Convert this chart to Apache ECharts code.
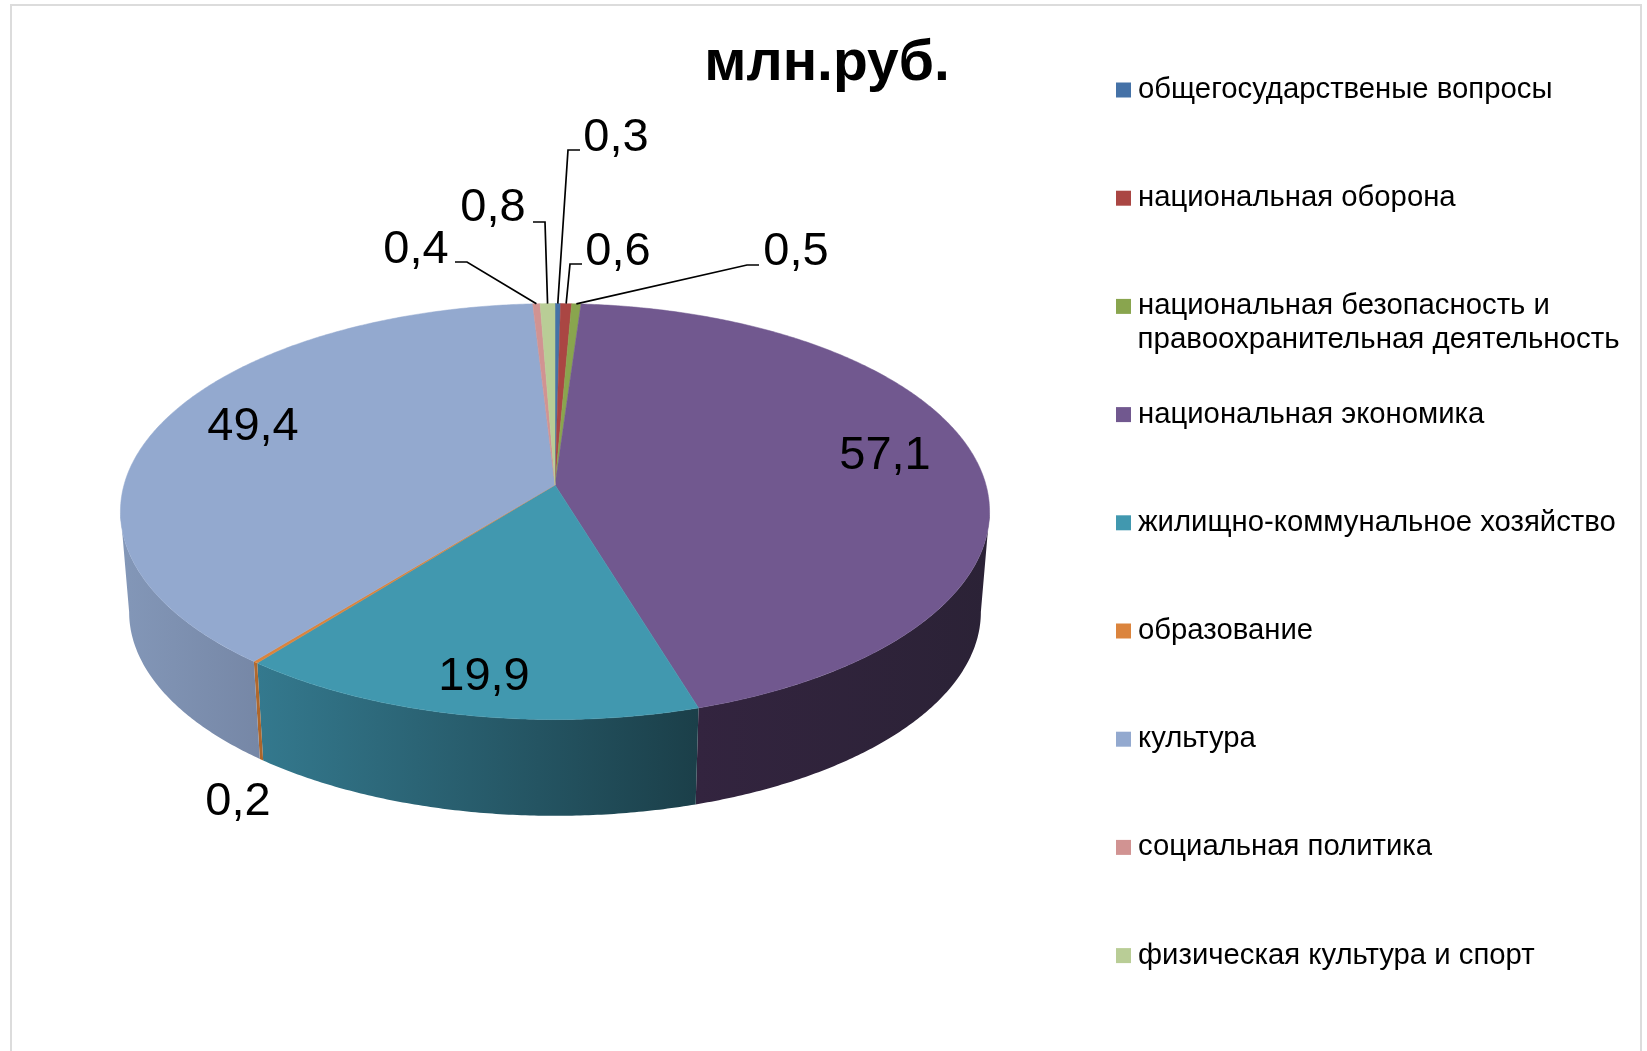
<!DOCTYPE html>
<html>
<head>
<meta charset="utf-8">
<script src="https://cdn.jsdelivr.net/npm/echarts@6/dist/echarts.min.js"></script>
<style>
    html, body { margin: 0; padding: 0; background: #fff; }
    #main { width: 1647px; height: 1051px; }
</style>
</head>
<body>
<div id="main"></div>
<script>
    var categories = [
        'общегосударственые вопросы',
        'национальная оборона',
        'национальная безопасность и\nправоохранительная деятельность',
        'национальная экономика',
        'жилищно-коммунальное хозяйство',
        'образование',
        'культура',
        'социальная политика',
        'физическая культура и спорт'
    ];
    var values = [0.3, 0.6, 0.5, 57.1, 19.9, 0.2, 49.4, 0.4, 0.8];

    var colors = ['#4572a7', '#aa4643', '#89a54e', '#71588f', '#4198af', '#db843d', '#93a9cf', '#d19392', '#b9cd96'];
    // side colours, left to right on screen
    var wallFrom = ['#2f4d71', '#732f2d', '#5d7034', '#33243f', '#34798e', '#b36a2e', '#8397b8', '#8e6362', '#7d8b65'];
    var wallTo = ['#2f4d71', '#732f2d', '#5d7034', '#2b2236', '#1b3f49', '#a8642b', '#7687a6', '#8e6362', '#7d8b65'];

    // where each value label sits, and the elbow of its leader line (null = no leader)
    var labelPos = [[616, 138], [618, 252], [796, 252], [885, 456], [484, 677], [238, 802], [253, 427], [416, 250], [493, 208]];
    var labelElbow = [
        [[568, 150], [580, 150]],
        [[570, 264], [582, 264]],
        [[747, 265], [759, 265]],
        null, null, null, null,
        [[467, 262], [455, 262]],
        [[545, 222], [533, 222]]
    ];

    // the tilted disc: a circle seen in perspective, so the centre is above the ellipse middle
    var cx = 555, apexY = 485, radX = 431, radY = 204.6, persp = 0.1277;
    var depth = 101, shrink = 0.98;

    var total = values.reduce(function (a, b) { return a + b; }, 0);
    var starts = [];
    var run = 0;
    values.forEach(function (v) {
        starts.push(run / total * 360);
        run += v;
    });

    // angle of the right silhouette edge; the left one mirrors it
    var edgeDeg = Math.acos(-persp) * 180 / Math.PI;

    function project(deg, bottom) {
        var t = deg * Math.PI / 180;
        var X = Math.sin(t), Y = Math.cos(t);
        var w = 1 + persp * Y;
        var s = bottom ? shrink : 1;
        return [cx + radX * s * X / w, apexY + (bottom ? depth : 0) - radY * s * Y / w];
    }

    function arc(from, to, bottom) {
        var pts = [];
        var n = Math.max(2, Math.ceil((to - from) * 2));
        for (var i = 0; i <= n; i++) {
            pts.push(project(from + (to - from) * i / n, bottom));
        }
        return pts;
    }

    function sliceEnd(i) {
        return starts[i] + values[i] / total * 360;
    }

    function renderWall(i) {
        return function () {
            // only the side facing us shows, stopping at the silhouette so the polygon can't fold
            var from = Math.max(starts[i], edgeDeg), to = Math.min(sliceEnd(i), 360 - edgeDeg);
            if (from >= to) return null;
            var pts = arc(from, to, false).concat(arc(from, to, true).reverse());
            return {
                type: 'polygon',
                shape: { points: pts },
                style: {
                    fill: {
                        type: 'linear', x: 0, y: 0, x2: 1, y2: 0,
                        colorStops: [{ offset: 0, color: wallFrom[i] }, { offset: 1, color: wallTo[i] }]
                    },
                    stroke: null
                }
            };
        };
    }

    function renderTop(i) {
        return function () {
            var pts = [[cx, apexY]].concat(arc(starts[i], sliceEnd(i), false));
            return {
                type: 'polygon',
                shape: { points: pts },
                style: { fill: colors[i], stroke: colors[i], lineWidth: 0.5 }
            };
        };
    }

    function renderLabel(params) {
        var i = params.dataIndex;
        var children = [{
            type: 'text',
            style: {
                x: labelPos[i][0], y: labelPos[i][1],
                text: String(values[i]).replace('.', ','),
                fill: '#000',
                font: '47px "Liberation Sans", Arial, sans-serif',
                align: 'center', verticalAlign: 'middle'
            }
        }];
        if (labelElbow[i]) {
            var mid = starts[i] + values[i] / total * 180;
            children.push({
                type: 'polyline',
                shape: { points: [project(mid, false)].concat(labelElbow[i]) },
                style: { fill: null, stroke: '#000', lineWidth: 1.7 }
            });
        }
        return { type: 'group', children: children };
    }

    var series = [];
    categories.forEach(function (name, i) {
        series.push({
            type: 'custom', name: 'wall ' + i, coordinateSystem: 'none', silent: true, z: 1,
            data: [[values[i]]], renderItem: renderWall(i)
        });
    });
    categories.forEach(function (name, i) {
        series.push({
            type: 'custom', name: name, coordinateSystem: 'none', silent: true, z: 2,
            itemStyle: { color: colors[i] },
            data: [[values[i]]], renderItem: renderTop(i)
        });
    });
    series.push({
        type: 'custom', name: 'labels', coordinateSystem: 'none', silent: true, z: 3,
        data: values.map(function (v) { return [v]; }), renderItem: renderLabel
    });

    var myChart = echarts.init(document.getElementById('main'), null, { renderer: 'canvas' });
    var option = {
        animation: false,
        backgroundColor: '#fff',
        title: {
            text: 'млн.руб.',
            left: 827, top: 64,
            padding: 0,
            textAlign: 'center', textVerticalAlign: 'middle',
            textStyle: { fontFamily: '"Liberation Sans", Arial, sans-serif', fontSize: 57, fontWeight: 'bold', color: '#000' }
        },
        legend: {
            orient: 'vertical',
            left: 1116, top: 75,
            padding: 0,
            data: categories,
            icon: 'rect',
            itemWidth: 15, itemHeight: 15, itemGap: 78.2,
            selectedMode: false,
            formatter: function (name) { return name.split('\n')[0]; },
            textStyle: {
                fontFamily: '"Liberation Sans", Arial, sans-serif',
                fontSize: 29.3, color: '#000', lineHeight: 30, padding: [0, 0, 0, 2]
            }
        },
        graphic: [
            {
                type: 'polyline', silent: true,
                shape: { points: [[11, 1051], [11, 5], [1641, 5], [1641, 1051]] },
                style: { fill: null, stroke: '#dcdcdc', lineWidth: 2 }
            },
            {
                type: 'text', silent: true, x: 1137.5, y: 340,
                style: {
                    text: categories[2].split('\n')[1],
                    fill: '#000', font: '29.5px "Liberation Sans", Arial, sans-serif',
                    verticalAlign: 'middle'
                }
            }
        ],
        series: series
    };
    myChart.setOption(option);
</script>
</body>
</html>
